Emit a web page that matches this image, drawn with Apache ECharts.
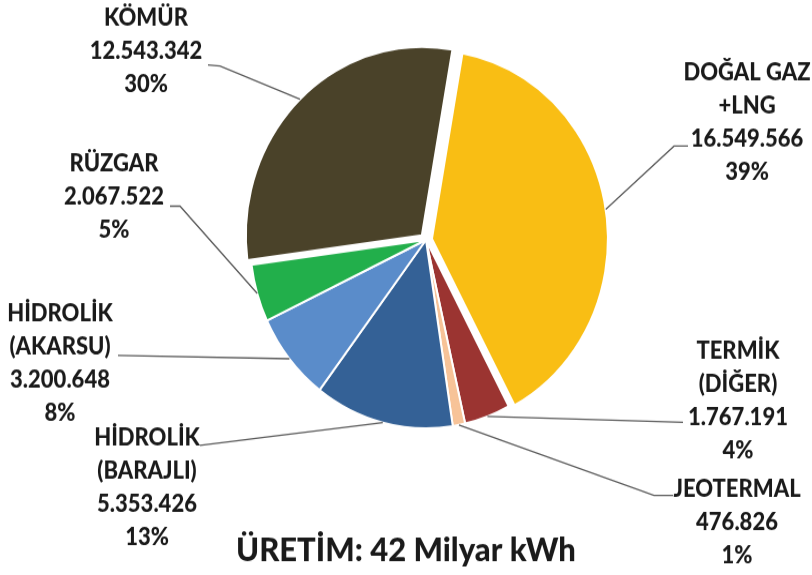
<!DOCTYPE html>
<html>
<head>
<meta charset="utf-8">
<script src="https://cdn.jsdelivr.net/npm/echarts@6/dist/echarts.min.js"></script>
<style>
  html { margin: 0; padding: 0; background: #ffffff; overflow: hidden; }
  body { margin: 0; padding: 0; background: #ffffff; width: 812px; height: 575px; }
  /* the drawing is a little taller than wide, so the canvas is stretched vertically */
  #chart { width: 812px; height: 537px; transform: scaleY(1.0708); transform-origin: 0 0; }
</style>
</head>
<body>
<div id="chart"></div>
<script>
// Electricity generation by source (kWh, thousands)
const sources = ['DOĞAL GAZ\n+LNG', 'TERMİK\n(DİĞER)', 'JEOTERMAL', 'HİDROLİK\n(BARAJLI)', 'HİDROLİK\n(AKARSU)', 'RÜZGAR', 'KÖMÜR'];
const production = [16549566, 1767191, 476826, 5353426, 3200648, 2067522, 12543342];
const pulledOut = [true, false, false, false, false, false, true];
const titleText = 'ÜRETİM: 42 Milyar kWh';

// colours, one per source
const palette = ['#f9be14', '#9b3431', '#f7c398', '#346196', '#5a8cca', '#22af4b', '#4a4229'];

// label placement: text centre x, text top y, then the leader's bend/end points
const labelSpots = [
  { x: 747, y: 52,  line: [[674, 136.4], [688, 136.4]] },
  { x: 738, y: 312, line: [[683, 394.4]] },
  { x: 737, y: 441, line: [[654, 462.6], [673, 462.6]] },
  { x: 147, y: 393, line: [[200, 415.9]] },
  { x: 60,  y: 277, line: [[118, 331.8]] },
  { x: 114, y: 137, line: [[180, 192.5], [170, 192.5]] },
  { x: 146, y: 1,   line: [[220, 61.7], [208, 60.7]] }
];

function thousands(v) {
  return String(v).replace(/\B(?=(\d{3})+(?!\d))/g, '.');
}

const pieCenter = [426, 224];
const pieRadius = 176;
const pieStart = 80;
const pullDistance = 6;

const chart = echarts.init(document.getElementById('chart'), null, { renderer: 'canvas' });

chart.setOption({
  animation: false,
  backgroundColor: '#ffffff',
  title: {
    text: titleText,
    left: 'center',
    top: 498,
    padding: 0,
    textStyle: { fontFamily: 'Lato', fontWeight: 900, fontSize: 31, lineHeight: 31, color: '#1a1a1a' }
  },
  series: [
    // the slices, two of them pulled out
    {
      type: 'pie',
      center: pieCenter,
      radius: pieRadius,
      startAngle: pieStart,
      clockwise: true,
      selectedMode: 'multiple',
      selectedOffset: pullDistance,
      silent: true,
      emphasis: { disabled: true },
      itemStyle: { borderColor: '#ffffff', borderWidth: 2 },
      select: { itemStyle: { borderColor: '#ffffff', borderWidth: 2 } },
      label: { show: false },
      labelLine: { show: false },
      data: sources.map((name, i) => ({
        name: name,
        value: production[i],
        selected: pulledOut[i],
        itemStyle: { color: palette[i] }
      }))
    },
    // same values again, only for the labels and their leader lines
    {
      type: 'pie',
      center: pieCenter,
      radius: pieRadius,
      startAngle: pieStart,
      clockwise: true,
      silent: true,
      z: 3,
      avoidLabelOverlap: false,
      percentPrecision: 0,
      emphasis: { disabled: true },
      itemStyle: { color: 'rgba(0,0,0,0)', borderWidth: 0 },
      label: {
        show: true,
        position: 'outside',
        fontFamily: 'Lato',
        fontWeight: 900,
        fontSize: 22,
        lineHeight: 31,
        color: '#1a1a1a',
        align: 'center',
        formatter: p => p.name + '\n' + thousands(p.value) + '\n' + Math.round(p.percent) + '%'
      },
      labelLine: {
        show: true,
        length: 10,
        length2: 10,
        lineStyle: { color: '#5a5a5a', width: 1.3 }
      },
      labelLayout: function (params) {
        const spot = labelSpots[params.dataIndex];
        const pts = params.labelLinePoints;
        const out = { x: spot.x, y: spot.y, align: 'center', verticalAlign: 'top' };
        if (pts) {
          let sx = pts[0][0], sy = pts[0][1];
          if (pulledOut[params.dataIndex]) {
            // start the leader on the pulled-out slice's rim
            const dx = sx - pieCenter[0], dy = sy - pieCenter[1];
            const len = Math.sqrt(dx * dx + dy * dy) || 1;
            sx += dx / len * pullDistance;
            sy += dy / len * pullDistance;
          }
          out.labelLinePoints = [[sx, sy]].concat(spot.line.map(p => [p[0], p[1]]));
        }
        return out;
      },
      data: sources.map((name, i) => ({ name: name, value: production[i] }))
    }
  ]
});
</script>
</body>
</html>
